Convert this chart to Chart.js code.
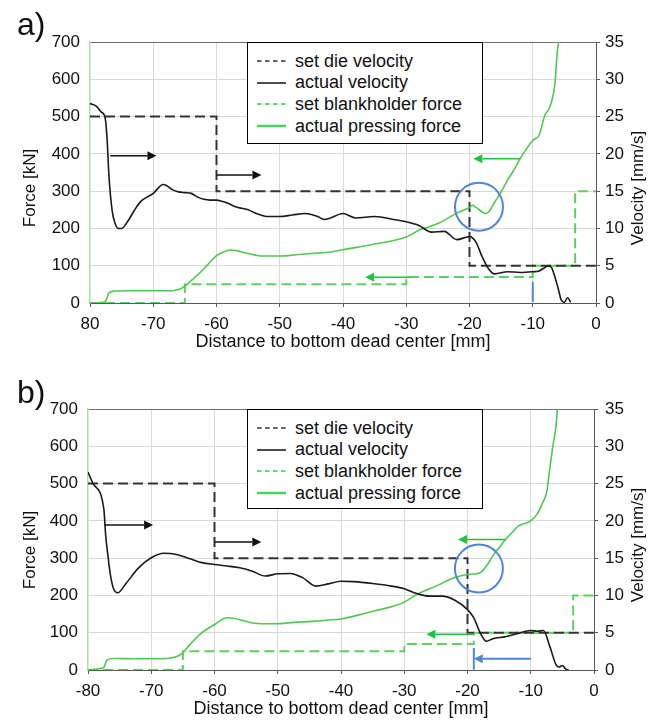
<!DOCTYPE html>
<html>
<head>
<meta charset="utf-8">
<script src="https://cdn.jsdelivr.net/npm/chart.js@4.4.1/dist/chart.umd.min.js"></script>
<style>
  html, body { margin: 0; padding: 0; background: #fff; overflow: hidden; }
  #page { position: relative; width: 657px; height: 721px; overflow: hidden;
          font-family: 'Liberation Sans', Arial, sans-serif; color: #111; }
  canvas { position: absolute; left: 0; }
  .tag { position: absolute; font-size: 32px; line-height: 32px; }
  .vt { position: absolute; font-size: 17px; white-space: nowrap;
        transform: translate(-50%, -50%) rotate(-90deg); }
  .legend { position: absolute; border: 1px solid #000; background: #fff; box-sizing: border-box; }
  .row { position: absolute; left: 0; height: 22px; display: flex; align-items: center;
         font-size: 18px; white-space: nowrap; }
  .row svg { margin-left: 9px; margin-right: 9px; }
</style>
</head>
<body>
<div id="page">
  <canvas id="chartA" width="657" height="360" style="top:0"></canvas>
  <canvas id="chartB" width="657" height="360" style="top:367px"></canvas>
  <div class="tag" style="left:17px;top:8px">a)</div>
  <div class="tag" style="left:17px;top:376px">b)</div>
  <div class="vt" style="left:30px;top:188px">Force [kN]</div>
  <div class="vt" style="left:638px;top:188px">Velocity [mm/s]</div>
  <div class="vt" style="left:30px;top:550px">Force [kN]</div>
  <div class="vt" style="left:638px;top:545px">Velocity [mm/s]</div>
  <div class="legend" id="legA" style="left:247px;top:42px;width:236px;height:102px"></div>
  <div class="legend" id="legB" style="left:247px;top:409px;width:236px;height:100px"></div>
</div>
<script>
// distance in mm, force in kN, velocity in mm/s
const xTickLabelsA = ['80', '-70', '-60', '-50', '-40', '-30', '-20', '-10', '0'];
const xTickLabelsB = ['-80', '-70', '-60', '-50', '-40', '-30', '-20', '-10', '0'];
const forceTickLabels = ['0', '100', '200', '300', '400', '500', '600', '700'];
const velocityTickLabels = ['0', '5', '10', '15', '20', '25', '30', '35'];
const seriesNames = ['set die velocity', 'actual velocity', 'set blankholder force', 'actual pressing force'];

// ---- a) ----
const dieXA = [-80, -60, -20, 0];
const dieVA = [25, 15, 5, 5];
const velXA = [-80, -79, -78.2, -77.6, -77.3, -77, -76.5, -76, -75.5, -75, -74, -73, -72, -71, -70, -69, -68.5, -68, -67,
  -66, -65, -64, -63, -62, -61, -60, -59, -58, -57, -56, -55, -54, -53, -52, -50, -48, -46, -44, -43, -42, -40, -38,
  -35, -32, -30, -28, -26, -24, -22, -20, -19, -18, -17, -16, -14, -12, -10, -9, -8, -7.5, -7, -6, -5.5, -5, -4.5, -4];
const velA = [26.75, 26.4, 25.6, 24.8, 22, 17, 12.4, 10.6, 10, 10, 11, 12.4, 13.6, 14.2, 14.7, 15.6, 15.9, 15.8, 15.2,
  14.9, 14.8, 14.7, 14.2, 13.9, 13.8, 13.8, 13.6, 13.3, 12.9, 12.7, 12.5, 12.1, 11.8, 11.6, 11.6, 11.8, 12, 11.6, 11.2, 11.4, 12, 11.4,
  11.6, 11.2, 10.9, 10.4, 9.5, 9.6, 8.5, 8.9, 8.2, 6.2, 4.6, 3.9, 4.2, 4.1, 4.2, 4.3, 4.8, 5, 4.7, 2, 0.4, 0.1, 0.7, 0.1];
const bhXA = [-80, -65, -30, -10, -3.3, 0];
const bhFA = [0, 50, 70, 100, 300, 300];
const pressXA = [-80, -78, -77.5, -77, -76, -74, -70, -67, -66, -65, -64, -63, -62, -61, -60, -59, -58, -57, -56, -55, -54,
  -53, -50, -47, -44, -42, -40, -35, -30, -28, -25, -22, -20, -19.5, -19, -18, -17.5, -17, -16, -15, -14, -13, -12, -10,
  -9, -8.1, -7.3, -6.5, -6.1, -5.9];
const pressFA = [0, 2, 6, 27, 32, 33, 33, 33, 36, 45, 60, 75, 92, 110, 127, 136, 142, 141, 137, 133, 129,
  126, 126, 130, 134, 137, 143, 158, 177, 195, 213, 241, 256, 262, 257, 244, 240, 244, 271, 298, 329, 356, 387, 436,
  450, 503, 526, 588, 677, 700];
// arrows: [from x, from kN, to x, to kN, colour key]
const arrowsA = [[-76.8, 395, -69.5, 395, 'k'], [-60, 343, -52.9, 343, 'k'], [-12, 387, -19.4, 387, 'g'], [-29.4, 69, -36.5, 69, 'g']];
const barsA = [[-10, 3, 57]];
const circlesA = [[-18.5, 258]];

// ---- b) ----
const dieXB = [-80, -60, -20, 0];
const dieVB = [25, 15, 5, 5];
const velXB = [-80, -79.2, -77.5, -77.2, -76.8, -76.5, -76, -75.3, -74, -72, -70, -68, -66, -64, -62, -60, -58, -56, -54,
  -52, -50, -48, -46, -44, -42, -40, -38, -35, -32, -30, -28, -26, -24, -22, -20, -19, -18, -17, -16, -14, -12, -10,
  -9, -8, -7, -6, -5.5, -5, -4.5, -4];
const velB = [26.55, 25, 21.6, 18, 15, 13, 11, 10.35, 11.6, 13.7, 15.05, 15.65, 15.5, 14.95, 14.4, 14.15, 13.95, 13.7, 13.25,
  12.6, 12.9, 12.95, 12.35, 11.25, 11.55, 11.9, 11.85, 11.6, 11.25, 10.9, 10.25, 9.9, 9.9, 9.35, 8.1, 7, 5, 3.85, 4.2, 4.45, 4.9, 5.3,
  5.2, 5.3, 3.2, 0.7, 0.4, 0.6, 0.15, 0];
const bhXB = [-80, -65, -30, -19, -3.3, 0];
const bhFB = [0, 50, 70, 100, 200, 200];
const pressXB = [-80, -78, -77.5, -77, -76, -72, -68, -67, -66, -65, -64, -62, -60, -58, -57, -56, -54, -52, -50, -48, -46,
  -44, -42, -40, -36, -32, -30, -28, -25, -22, -20, -18, -17, -16, -15, -14, -13, -12, -10, -9, -8, -7.5, -7, -6.5, -6, -5.8];
const pressFB = [0, 4, 7, 27, 31, 30, 30, 32, 36, 46, 66, 100, 122, 140, 139, 135, 126, 124, 124, 127, 129,
  131, 134, 137, 153, 170, 182, 203, 225, 248, 256, 261, 279, 306, 328, 350, 368, 386, 400, 418, 453, 476, 539, 601, 655, 700];
const arrowsB = [[-77.4, 389, -69.7, 389, 'k'], [-60, 343, -52.6, 343, 'k'], [-14, 350, -21.5, 350, 'g'],
  [-19.1, 96, -26.5, 96, 'g'], [-10, 30, -19, 30, 'b']];
const barsB = [[-19, 1, 59]];
const circlesB = [[-18.2, 272]];

const COLORS = { k: '#111', g: '#1fc43a', b: '#4f86d6' };

Chart.defaults.font.family = "'Liberation Sans', Arial, sans-serif";
Chart.defaults.font.size = 17;
Chart.defaults.color = '#111';

function pts(xs, ys) {
  return xs.map((x, i) => ({ x: x, y: ys[i] }));
}

function drawArrow(ctx, x1, y1, x2, y2, color, w) {
  const a = Math.atan2(y2 - y1, x2 - x1);
  const hl = 9, hw = 4.5;
  const bx = x2 - hl * Math.cos(a), by = y2 - hl * Math.sin(a);
  ctx.strokeStyle = color;
  ctx.fillStyle = color;
  ctx.lineWidth = w;
  ctx.beginPath();
  ctx.moveTo(x1, y1);
  ctx.lineTo(bx, by);
  ctx.stroke();
  ctx.beginPath();
  ctx.moveTo(x2, y2);
  ctx.lineTo(bx - hw * Math.sin(a), by + hw * Math.cos(a));
  ctx.lineTo(bx + hw * Math.sin(a), by - hw * Math.cos(a));
  ctx.closePath();
  ctx.fill();
}

function marksPlugin(p) {
  return {
    id: 'marks',
    afterDatasetsDraw(chart) {
      const ctx = chart.ctx;
      const xs = chart.scales.x, ys = chart.scales.yF;
      ctx.save();
      p.arrows.forEach(a => {
        drawArrow(ctx, xs.getPixelForValue(a[0]), ys.getPixelForValue(a[1]),
          xs.getPixelForValue(a[2]), ys.getPixelForValue(a[3]), COLORS[a[4]], a[4] === 'b' ? 2 : 1.5);
      });
      ctx.strokeStyle = COLORS.b;
      ctx.lineWidth = 2;
      p.bars.forEach(b => {
        const px = xs.getPixelForValue(b[0]);
        ctx.beginPath();
        ctx.moveTo(px, ys.getPixelForValue(b[1]));
        ctx.lineTo(px, ys.getPixelForValue(b[2]));
        ctx.stroke();
      });
      p.circles.forEach(c => {
        ctx.beginPath();
        ctx.arc(xs.getPixelForValue(c[0]), ys.getPixelForValue(c[1]), 24, 0, Math.PI * 2);
        ctx.stroke();
      });
      ctx.restore();
    }
  };
}

const lineStyles = [
  { color: '#333', width: 2, dash: [10, 5], legend: '#333', legendDash: '4.5 3.5', legendWidth: 1.5 },
  { color: '#1a1a1a', width: 1.6, dash: [], legend: '#111', legendDash: '', legendWidth: 1.5 },
  { color: '#5fd05f', width: 2, dash: [10, 5], legend: '#22d43c', legendDash: '4.5 3.5', legendWidth: 1.5 },
  { color: '#4fc94f', width: 1.6, dash: [], legend: '#44d460', legendDash: '', legendWidth: 2.5 }
];

function buildLegend(id) {
  const box = document.getElementById(id);
  seriesNames.forEach((name, i) => {
    const s = lineStyles[i];
    const row = document.createElement('div');
    row.className = 'row';
    row.style.top = (7 + i * 21.7) + 'px';
    row.innerHTML = '<svg width="29" height="4"><line x1="0" y1="2" x2="29" y2="2" stroke="' + s.legend +
      '" stroke-width="' + s.legendWidth + '" stroke-dasharray="' + s.legendDash + '"/></svg><span>' + name + '</span>';
    box.appendChild(row);
  });
}

function makeChart(id, p) {
  const datasets = [
    { data: pts(p.dieX, p.dieV), yAxisID: 'yV', stepped: true, order: 3 },
    { data: pts(p.velX, p.vel), yAxisID: 'yV', cubicInterpolationMode: 'monotone', order: 1 },
    { data: pts(p.bhX, p.bhF), yAxisID: 'yF', stepped: true, order: 4 },
    { data: pts(p.pressX, p.pressF), yAxisID: 'yF', cubicInterpolationMode: 'monotone', order: 2 }
  ].map((d, i) => Object.assign(d, {
    label: seriesNames[i],
    borderColor: lineStyles[i].color,
    borderWidth: lineStyles[i].width,
    borderDash: lineStyles[i].dash
  }));

  new Chart(document.getElementById(id), {
    type: 'line',
    data: { datasets: datasets },
    options: {
      responsive: false,
      animation: false,
      elements: { point: { radius: 0 }, line: { tension: 0, fill: false } },
      layout: { padding: { top: 42, left: 0, right: 0, bottom: 0 } },
      plugins: { legend: { display: false }, tooltip: { enabled: false } },
      scales: {
        x: {
          type: 'linear', min: -80, max: 0,
          afterFit: s => { s.height = 57; },
          ticks: { stepSize: 10, padding: 7, maxRotation: 0, autoSkip: false, callback: (v, i) => p.xLabels[i] },
          grid: {
            tickLength: 4, tickColor: '#595959',
            color: c => (c.tick && (c.tick.value === 0 || c.tick.value === -80)) ? 'rgba(0,0,0,0)' : '#d9d9d9'
          },
          border: { color: '#595959' },
          title: { display: true, text: 'Distance to bottom dead center [mm]', font: { size: 18 }, padding: { top: 0, bottom: 7 } }
        },
        yF: {
          position: 'left', min: 0, max: 700,
          afterFit: s => { s.width = p.leftW; },
          ticks: { stepSize: 100, padding: 10, callback: (v, i) => forceTickLabels[i] },
          grid: {
            drawTicks: false,
            color: c => !c.tick ? '#d9d9d9' : c.tick.value === 0 ? 'rgba(0,0,0,0)' : c.tick.value === 700 ? '#707070' : '#d9d9d9'
          },
          border: { color: '#a3e2a3', width: 1.5 }
        },
        yV: {
          position: 'right', min: 0, max: 35,
          afterFit: s => { s.width = p.rightW; },
          ticks: { stepSize: 5, padding: p.rightPad, callback: (v, i) => velocityTickLabels[i] },
          grid: { drawOnChartArea: false, tickLength: 4, color: '#595959' },
          border: { color: '#595959' }
        }
      }
    },
    plugins: [marksPlugin(p)]
  });
}

makeChart('chartA', {
  xLabels: xTickLabelsA, leftW: 90, rightW: 61, rightPad: 5,
  dieX: dieXA, dieV: dieVA, velX: velXA, vel: velA, bhX: bhXA, bhF: bhFA, pressX: pressXA, pressF: pressFA,
  arrows: arrowsA, bars: barsA, circles: circlesA
});
makeChart('chartB', {
  xLabels: xTickLabelsB, leftW: 88, rightW: 63, rightPad: 7,
  dieX: dieXB, dieV: dieVB, velX: velXB, vel: velB, bhX: bhXB, bhF: bhFB, pressX: pressXB, pressF: pressFB,
  arrows: arrowsB, bars: barsB, circles: circlesB
});
buildLegend('legA');
buildLegend('legB');
</script>
</body>
</html>
